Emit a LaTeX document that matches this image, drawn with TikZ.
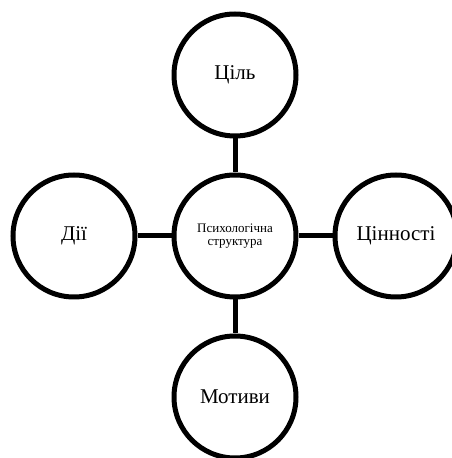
\documentclass[tikz,border=0pt]{standalone}
\usepackage{fontspec}
\setmainfont{Liberation Serif}
\begin{document}
\begin{tikzpicture}[x=1pt,y=1pt]
% Variabili
\def\dist{161}  % distanza tra i centri
\def\diam{122pt}  % diametro dei cerchi
\tikzset{kolo/.style={draw,circle,line width=5pt,minimum size=\diam,inner sep=0pt,fill=white}}
\useasboundingbox (0,0) rectangle (452,458);

% Cerchio centrale
\coordinate (o) at (235,222);
\node[kolo,align=center,font=\fontsize{13}{13.5}\selectfont] (centr) at (o) {Психологічна\\структура};

% Cerchi esterni
\foreach \nm/\ang/\txt in {tsil/90/Ціль, tsinnosti/0/Цінності, motyvy/270/Мотиви, dii/180/Дії} {
    \node[kolo,font=\fontsize{21}{24}\selectfont] (\nm) at ([shift={(\ang:\dist)}]o) {\txt};
    \draw[line width=5pt] (centr) -- (\nm);
}
\end{tikzpicture}
\end{document}
